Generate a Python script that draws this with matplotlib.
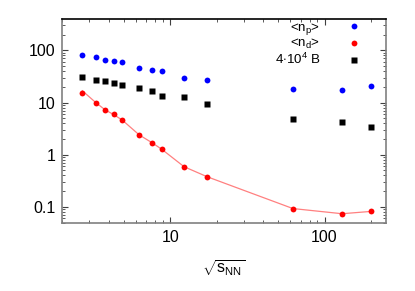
import matplotlib
matplotlib.use("Agg")
import matplotlib.pyplot as plt
from matplotlib.ticker import LogLocator, FixedLocator, FixedFormatter, NullFormatter

plt.rcParams['font.family'] = ['Liberation Sans', 'DejaVu Sans']
plt.rcParams['mathtext.fontset'] = 'custom'
plt.rcParams['mathtext.rm'] = 'Liberation Sans'
plt.rcParams['mathtext.it'] = 'Liberation Sans'

sqrt_s = [2.7, 3.3, 3.8, 4.3, 4.9, 6.3, 7.6, 8.8, 12.3, 17.3, 62.4, 130, 200]
n_p = [81, 73.5, 65, 63, 59, 45, 42, 40.7, 29.5, 27, 18.2, 17.7, 21]
n_d = [15.1, 9.96, 7.2, 5.9, 4.6, 2.4, 1.71, 1.28, 0.59, 0.38, 0.093, 0.072, 0.082]
B_scaled = [30.4, 27.4, 25.9, 23.4, 21.7, 19.3, 16.9, 13.4, 12.6, 9.4, 4.9, 4.2, 3.37]
n_d_model = [16.8, 9.96, 7.2, 5.9, 4.6, 2.4, 1.71, 1.28, 0.59, 0.38, 0.093, 0.074, 0.082]

yticks = [0.1, 1, 10, 100]
ytick_labels = ['0.1', '1', '10', '100']
xticks = [10, 100]
xtick_labels = ['10', '100']

fig = plt.figure(figsize=(4.15, 2.91), dpi=100)
ax = fig.add_axes([0.150, 0.235, 0.780, 0.698])
ax.set_xscale('log')
ax.set_yscale('log')
ax.set_xlim(2, 250)
ax.set_ylim(0.05, 390)

ax.plot(sqrt_s, n_d_model, '-', color='#ff8080', lw=0.9, zorder=2)
ax.plot(sqrt_s, n_p, 'o', color='#0000ff', ms=4.2, mec='none', zorder=3)
ax.plot(sqrt_s, n_d, 'o', color='#ff0000', ms=4.2, mec='none', zorder=3)
ax.plot(sqrt_s, B_scaled, 's', color='#000000', ms=4.0, mec='none', zorder=3)

# legend gnuplot style
leg_labels = [r'<n$_{\rm p}$>', r'<n$_{\rm d}$>', r'4$\cdot$10$^{4}$ B']
leg_colors = ['#0000ff', '#ff0000', '#000000']
leg_markers = ['o', 'o', 's']
ys = [0.967, 0.885, 0.803]
for lab, c, m, yy in zip(leg_labels, leg_colors, leg_markers, ys):
    ax.text(0.797, yy - 0.022, lab, transform=ax.transAxes, ha='right', va='baseline',
            fontsize=9.6)
    ax.plot([0.9], [yy], m, color=c, ms=4.2 if m == 'o' else 4.0, mec='none',
            transform=ax.transAxes, clip_on=False)

ax.xaxis.set_major_locator(FixedLocator(xticks))
ax.xaxis.set_major_formatter(FixedFormatter(xtick_labels))
ax.xaxis.set_minor_locator(LogLocator(base=10, subs=range(2, 10)))
ax.xaxis.set_minor_formatter(NullFormatter())
ax.yaxis.set_major_locator(FixedLocator(yticks))
ax.yaxis.set_major_formatter(FixedFormatter(ytick_labels))
ax.yaxis.set_minor_locator(LogLocator(base=10, subs=range(2, 10)))
ax.yaxis.set_minor_formatter(NullFormatter())

spine_c = '#808080'
for s in ax.spines.values():
    s.set_color(spine_c)
    s.set_linewidth(1.2)
ax.spines['top'].set_color('black')
ax.tick_params(which='both', direction='in', top=True, right=True, color='#404040',
               labelsize=11.5, pad=5)
ax.tick_params(which='major', length=4, width=0.8)
ax.tick_params(which='minor', length=2, width=0.6)

ax.set_xlabel(r'$\sqrt{{\rm s}_{\rm NN}}$', fontsize=11.5, labelpad=10)

fig.savefig('out.png', dpi=100)
